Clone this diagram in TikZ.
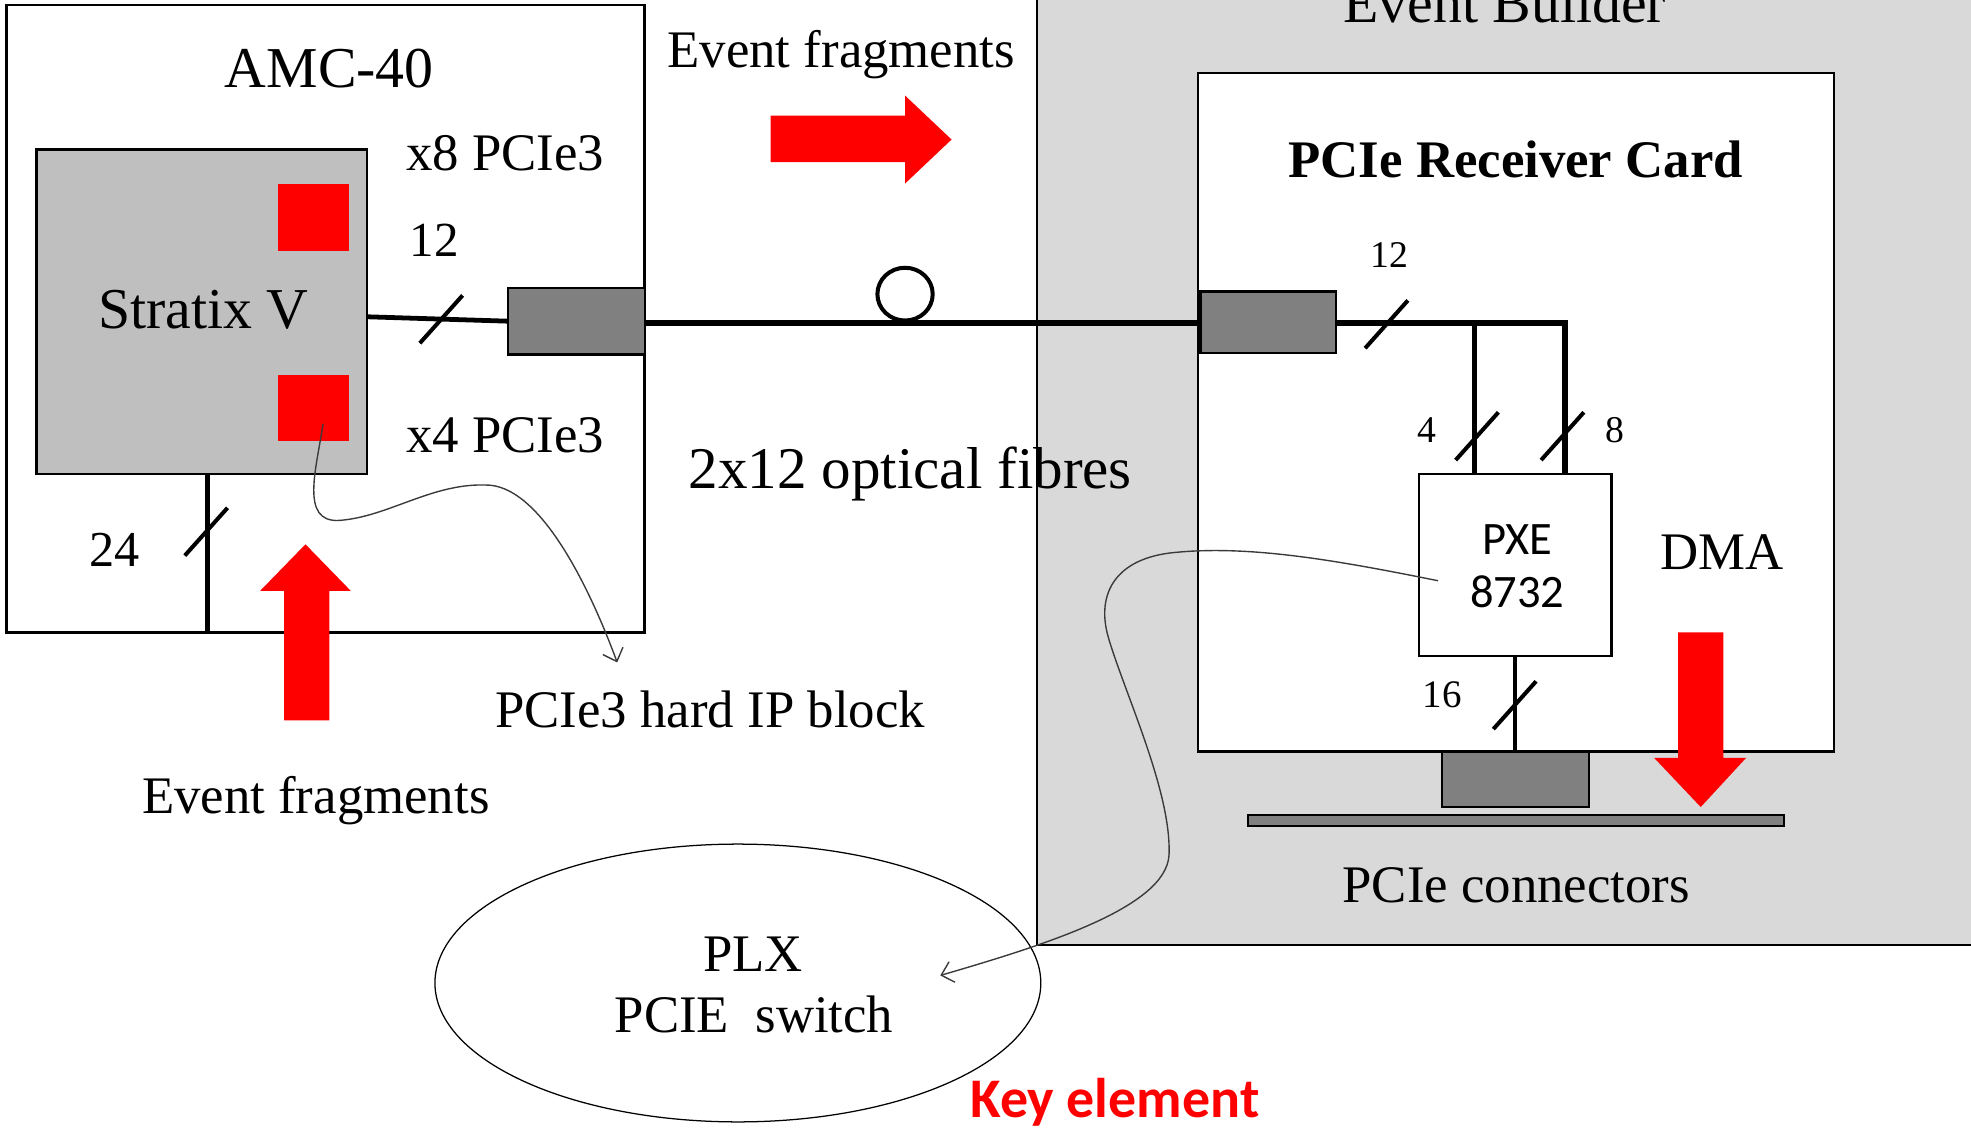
\documentclass[tikz,border=0pt]{standalone}
\usepackage{fontspec}
\setmainfont{Liberation Serif}
\newfontfamily\calibri{Carlito}
\usetikzlibrary{arrows.meta,calc,shapes.geometric}
\definecolor{ebgray}{HTML}{D9D9D9}
\definecolor{chipgray}{HTML}{BFBFBF}
\definecolor{congray}{HTML}{808080}
\definecolor{arrowred}{HTML}{FF0000}
\definecolor{notegray}{HTML}{3A3A3A}
\begin{document}
\begin{tikzpicture}[x=1pt,y=-1pt,
  box/.style={draw=black,line width=2pt,fill=white,inner sep=0pt,outer sep=0pt},
  chip/.style={box,fill=chipgray},
  conn/.style={box,fill=congray},
  redsq/.style={fill=arrowred,inner sep=0pt,outer sep=0pt},
  bus/.style={line width=3.8pt,draw=black},
  note/.style={line width=1.1pt,draw=notegray,-{Straight Barb[length=9pt,width=17pt,line width=1.1pt]}},
  lbl/.style={inner sep=0pt,outer sep=0pt,font=\fontsize{42}{50}\selectfont},
  small/.style={inner sep=0pt,outer sep=0pt,font=\fontsize{30}{36}\selectfont},
  slashmark/.pic={\draw[line width=3.2pt] (-17pt,-19pt) -- (17pt,19pt);}
]
\useasboundingbox (0,0) rectangle (1568,898);

% Event builder background
\node[draw=black,line width=1.6pt,fill=ebgray,inner sep=0pt,outer sep=0pt,
      minimum width=760pt,minimum height=830pt,anchor=south west] (eb) at (825,752) {};
\node[lbl,anchor=base,font=\fontsize{46}{50}\selectfont] (ebt) at (1197,18) {Event Builder};

% AMC-40 board
\node[box,line width=2.2pt,minimum width=508pt,minimum height=499pt] (amc) at (259,253.5) {};
\node[lbl,anchor=base,font=\fontsize{46}{50}\selectfont] (amct) at (262,70) {AMC-40};
\node[chip,minimum width=263pt,minimum height=258pt] (stratix) at (160.5,248) {};
\node[redsq,minimum width=57pt,minimum height=54pt] (sq1) at (249.5,173) {};
\node[redsq,minimum width=57pt,minimum height=53pt] (sq2) at (249.5,324.5) {};
\node[lbl,anchor=base west,font=\fontsize{46}{50}\selectfont] (strt) at (78,261) {Stratix V};
\node[conn,minimum width=109pt,minimum height=53pt] (conA) at (458.5,255.5) {};
\node[lbl,anchor=base west] (x8) at (323,136) {x8 PCIe3};
\node[lbl,anchor=base west,font=\fontsize{39}{46}\selectfont] (n12a) at (326,204) {12};
\node[lbl,anchor=base west] (x4) at (323,360) {x4 PCIe3};
\node[lbl,anchor=base west,font=\fontsize{40}{46}\selectfont] (n24) at (71,451) {24};

\coordinate (sE) at (292,252);
\draw[bus] (sE) -- (conA.west);
\pic at (351,254) {slashmark};
\coordinate (v24) at (165,0);
\draw[bus] (v24 |- stratix.south) -- (v24 |- amc.south);
\pic at (164,423) {slashmark};

% Receiver card
\node[box,minimum width=506pt,minimum height=540pt] (rcv) at (1206,328) {};
\node[lbl,anchor=base west,font=\bfseries\fontsize{42}{50}\selectfont] (rcvt) at (1025,141) {PCIe Receiver Card};
\node[conn,minimum width=108pt,minimum height=49pt] (conB) at (1009,256.5) {};
\node[box,minimum width=153pt,minimum height=145pt] (pxe) at (1205.5,449.5) {};
\node[inner sep=0pt,anchor=base,font=\calibri\fontsize{37}{44}\selectfont] (pxet1) at (1207,441) {PXE};
\node[inner sep=0pt,anchor=base,font=\calibri\fontsize{37}{44}\selectfont] (pxet2) at (1207,483) {8732};
\node[conn,minimum width=117pt,minimum height=44pt] (conC) at (1205.5,620) {};
\node[conn,line width=1.6pt,minimum width=426pt,minimum height=9pt] (bar) at (1206,652.5) {};

\coordinate (j1) at (1173,257);
\coordinate (j2) at (1245,257);
\draw[bus,line width=4.4pt] (conB.east |- j2) -- (j2) -- (j2 |- pxe.north);
\draw[bus,line width=4pt] (j1) -- (j1 |- pxe.north);
\draw[bus,line width=3.4pt] (pxe.south) -- (conC.north);
\pic at (1103,258) {slashmark};
\pic at (1175,347) {slashmark};
\pic at (1243,347) {slashmark};
\pic at (1205,561) {slashmark};

\node[small,anchor=base west] (n12b) at (1090,213) {12};
\node[small,anchor=base west] (n4) at (1128,352) {4};
\node[small,anchor=base west] (n8) at (1277,352) {8};
\node[small,anchor=base west,font=\fontsize{31}{36}\selectfont] (n16) at (1132,563) {16};
\node[lbl,anchor=base west] (dma) at (1321,453) {DMA};
\node[lbl,anchor=base west] (pcon) at (1068,718) {PCIe connectors};

% Optical fibre link
\draw[bus,line width=4.4pt] (conA.east |- 0,257) -- (conB.west |- 0,257);
\node[draw=black,line width=3.2pt,ellipse,inner sep=0pt,minimum width=44pt,minimum height=42pt] (loop) at (720,234) {};
\node[lbl,anchor=base west,font=\fontsize{47}{56}\selectfont] (fib) at (548,389) {2x12 optical fibres};

% Event fragment texts and arrows
\node[lbl,anchor=base west] (evt1) at (531,54) {Event fragments};
\node[lbl,anchor=base west] (evt2) at (113,647) {Event fragments};
\fill[arrowred] (613,92) -- (720,92) -- (720,76) -- (757,111) -- (720,146) -- (720,129) -- (613,129) -- cycle;
\fill[arrowred] (226,573) -- (226,470) -- (207,470) -- (243,433) -- (279,470) -- (262,470) -- (262,573) -- cycle;
\fill[arrowred] (1335,503) -- (1371,503) -- (1371,603) -- (1389,603) -- (1353,642) -- (1316,603) -- (1335,603) -- cycle;

% PCIe3 hard IP annotation
\node[lbl,anchor=base west] (hip) at (394,579) {PCIe3 hard IP block};
\coordinate (c1s) at (257,337);
\coordinate (c1e) at (491,527);
\draw[note] (c1s) .. controls (252,372) and (238,416) .. (270,414)
  .. controls (310,411) and (345,383) .. (390,386)
  .. controls (432,390) and (470,470) .. (c1e);

% PLX switch
\node[draw=black,line width=1pt,ellipse,inner sep=0pt,minimum width=482pt,minimum height=221pt] (plx) at (587,782) {};
\node[lbl,anchor=base] (plxt) at (599,773) {PLX};
\node[lbl,anchor=base west] (plxs) at (489,821) {PCIE\ \ switch};
\coordinate (c2s) at (1144,462);
\coordinate (c2e) at (748,776);
\draw[note] (c2s) .. controls (1060,445) and (990,433) .. (930,440)
  .. controls (885,446) and (872,475) .. (882,508)
  .. controls (895,552) and (932,630) .. (930,680)
  .. controls (928,722) and (830,752) .. (c2e);

\node[inner sep=0pt,anchor=base,text=arrowred,font=\calibri\bfseries\fontsize{44.5}{50}\selectfont] (key) at (887,889) {Key element};
\end{tikzpicture}
\end{document}
